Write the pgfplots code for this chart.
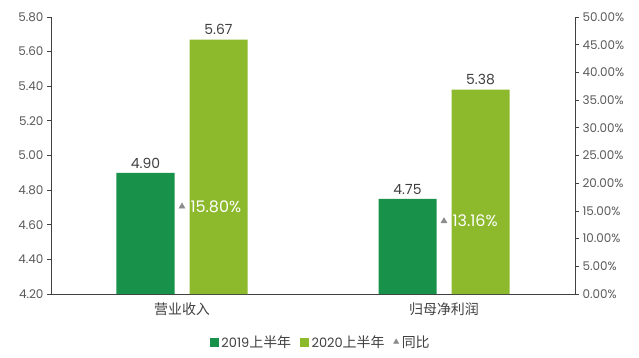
\documentclass[border=0pt]{standalone}
\usepackage{pgfplots}
\pgfplotsset{compat=1.18}
\usepackage{fontspec}
\setmainfont{Poppins}
\newfontfamily\cjk{Noto Sans CJK SC}
\definecolor{dg}{HTML}{18924A}
\definecolor{lg}{HTML}{8DB92C}
\definecolor{tl}{HTML}{595959}
\definecolor{al}{HTML}{404040}
\begin{document}
\begin{tikzpicture}
\useasboundingbox (-51bp,-64bp) rectangle (588bp,294bp);
\pgfplotsset{
  common/.style={
    scale only axis, width=524bp, height=277bp, at={(0,0)},
    xmin=-0.5, xmax=1.5,
    tick align=outside, major tick length=4bp,
    axis line style={-, draw=al, line width=0.8pt},
    tick style={draw=al, line width=0.8pt},
    ticklabel style={font=\fontsize{12}{14}\selectfont, text=tl},
    /pgf/number format/assume math mode=true,
  }
}
\begin{axis}[common,
  axis y line*=left, axis x line*=bottom,
  ymin=4.2, ymax=5.8,
  ytick={4.2,4.4,4.6,4.8,5.0,5.2,5.4,5.6,5.8},
  yticklabel style={/pgf/number format/.cd, fixed, fixed zerofill, precision=2},
  xtick={0,1}, xticklabels={{\cjk 营业收入},{\cjk 归母净利润}},
  xtick style={draw=none},
  xticklabel style={yshift=-1bp, font=\fontsize{14}{16}\selectfont, text=al},
  minor xtick={-0.5,0.5,1.5},
  minor tick length=5bp,
  minor tick style={draw=al, line width=0.8pt},
  ybar, bar width=58bp,
  nodes near coords,
  every node near coord/.append style={font=\fontsize{14}{16}\selectfont, text=al, yshift=1bp,
    /pgf/number format/.cd, fixed, fixed zerofill, precision=2},
]
\addplot[fill=dg, draw=none, bar shift=-36.5bp] coordinates {(0,4.90) (1,4.75)};
\addplot[fill=lg, draw=none, bar shift=36.5bp] coordinates {(0,5.67) (1,5.38)};
\end{axis}
\begin{axis}[common,
  axis y line*=right, axis x line=none,
  ymin=0, ymax=50,
  ytick={0,5,...,50},
  yticklabel={\pgfmathprintnumber[fixed,fixed zerofill,precision=2]{\tick}\%},
  legend style={draw=none, at={(0.515,-0.173)}, anchor=center,
    font=\fontsize{13}{15}\selectfont, text=al, legend columns=3,
    /tikz/every odd column/.append style={column sep=1bp},
    /tikz/every even column/.append style={column sep=7bp}},
  legend cell align=left,
]
\addlegendimage{legend image code/.code={\fill[dg] (0bp,-4bp) rectangle (8bp,4bp);}}
\addlegendentry{2019{\cjk\fontsize{14}{15}\selectfont 上半年}}
\addlegendimage{legend image code/.code={\fill[lg] (0bp,-4bp) rectangle (8bp,4bp);}}
\addlegendentry{2020{\cjk\fontsize{14}{15}\selectfont 上半年}}
\addplot[only marks, mark=triangle*, mark size=3.5bp, color=gray!90,
  point meta=explicit symbolic,
  nodes near coords, every node near coord/.append style={anchor=west, text=white,
    font=\fontsize{16}{18}\selectfont, xshift=5bp, yshift=0bp},
  legend image code/.code={\draw[mark=triangle*, mark size=3bp, gray!90] plot coordinates {(4bp,0bp)};}]
  coordinates {(0,15.80) [15.80\%] (1,13.16) [13.16\%]};
\addlegendentry{{\cjk\fontsize{14}{15}\selectfont 同比}}
\end{axis}
\end{tikzpicture}
\end{document}
